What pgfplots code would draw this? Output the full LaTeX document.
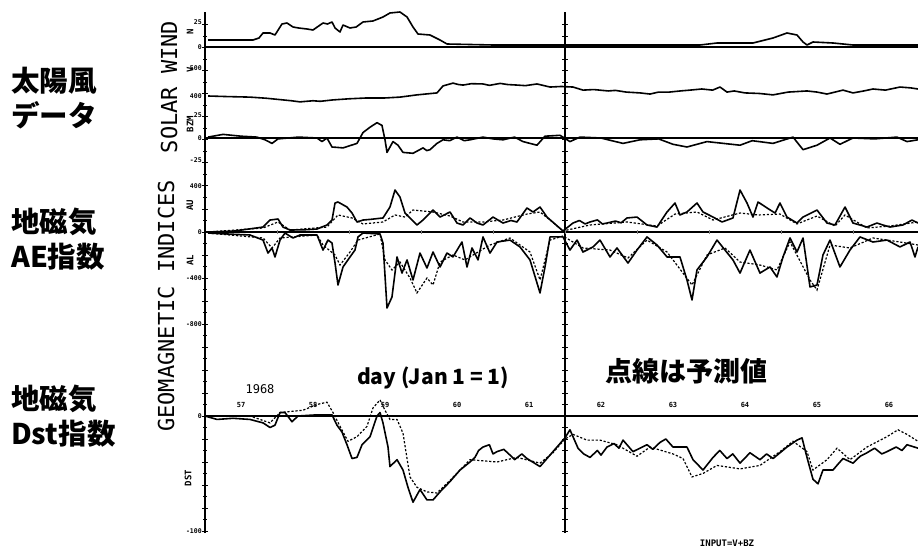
\documentclass[border=0pt]{standalone}
\usepackage{fontspec}
\usepackage{pgfplots}
\pgfplotsset{compat=1.18}
\setmonofont{DejaVu Sans Mono}
\newfontfamily\jp{Noto Sans CJK JP}
\begin{document}
\begin{tikzpicture}[x=1pt,y=1pt]
\useasboundingbox (0,0) rectangle (918,550);
\pgfplotsset{
  panel/.style={scale only axis, width=713pt, xmin=57, xmax=66.903,
    axis x line=middle, xtick=\empty, axis y line=left,
    axis line style={-, line width=1.3pt},
    y axis line style={draw=none},
    ytick style={draw=none},
    hide obscured y ticks=false, hide obscured x ticks=false,
    yticklabel style={font=\ttfamily\bfseries\fontsize{6.5}{6.5}\selectfont, inner sep=1pt},
    clip=false},
  obs/.style={black, line width=1.6pt, line join=round, no marks},
  pred/.style={black, line width=1.2pt, dash pattern=on 2.2pt off 1.8pt, no marks},
  daymarks/.style={extra x ticks={58,59,60,61,62,63,64,65,66}, extra x tick labels={},
    extra x tick style={tick align=center, major tick length=4pt, tick style={line width=0.8pt}}},
}
% frame: left axis with ticks
\begin{axis}[scale only axis, width=713pt, height=521pt, at={(205pt,17pt)}, anchor=south west,
  xmin=57, xmax=66.903, ymin=17, ymax=538,
  axis x line=none, axis y line=left, axis line style={-, line width=1.3pt},
  ytick={19,42,...,525}, yticklabels={}, yticklabel style={text opacity=0},
  minor y tick num=1, tick align=center,
  major tick length=6pt, minor tick length=4pt, tick style={line width=1pt, black}]
\addplot[draw=none] coordinates {(57,100)};
\end{axis}
% vertical line at day 62
\draw[line width=1.3pt] (565,17) -- (565,538);
\foreach \yy in {19,30.5,...,536} \draw[line width=1pt] (562,\yy) -- (568,\yy);

% N panel
\begin{axis}[panel, height=38pt, at={(205pt,500pt)}, anchor=south west, ymin=-3, ymax=35,
  ytick={0,25}, yticklabels={0,25}]
\addplot[obs] coordinates {(57.042,7) (57.667,7) (57.75,9) (57.806,14) (57.903,14) (57.972,12) (58.069,23) (58.139,24) (58.222,20) (58.3,19) (58.417,18) (58.5,17) (58.639,24) (58.7,23) (58.764,25) (58.806,19) (58.875,15) (58.917,22) (59.014,19) (59.1,20) (59.194,25) (59.333,26) (59.472,30) (59.569,34) (59.708,35) (59.806,30) (59.889,20) (59.958,13) (60.125,12) (60.264,7) (60.361,3) (61.0,2) (61.792,2) (62.486,2) (63.875,2) (64.111,4) (64.611,4) (64.889,9) (65.083,14) (65.222,12) (65.306,5) (65.361,2) (65.444,5) (65.722,4) (66.0,2) (66.903,2)};
\end{axis}

% V panel
\begin{axis}[panel, axis x line=none, height=57pt, at={(205pt,443pt)}, anchor=south west, ymin=360.7, ymax=564.3,
  ytick={400,500}, yticklabels={400,500}]
\addplot[obs] coordinates {(57.042,400) (57.3,398) (57.625,396) (57.85,392) (58.083,386) (58.2,383) (58.319,379) (58.5,383) (58.6,381) (58.778,386) (59.0,390) (59.25,393) (59.5,393) (59.708,396) (59.944,404) (60.222,411) (60.306,436) (60.444,446) (60.52,441) (60.583,439) (60.7,444) (60.861,443) (60.95,438) (61.1,445) (61.2,441) (61.333,439) (61.45,437) (61.611,443) (61.792,432) (61.95,434) (62.111,432) (62.25,421) (62.4,423) (62.6,418) (62.7,420) (62.85,414) (63.042,411) (63.181,407) (63.3,414) (63.45,414) (63.6,418) (63.736,421) (63.9,425) (64.05,421) (64.153,432) (64.25,414) (64.35,418) (64.5,411) (64.7,409) (64.889,404) (65.1,414) (65.361,418) (65.5,414) (65.639,407) (65.861,421) (66.0,411) (66.15,418) (66.278,425) (66.45,421) (66.653,432) (66.8,429) (66.903,425)};
\end{axis}

% BZ panel
\begin{axis}[panel, height=58pt, at={(205pt,385pt)}, anchor=south west, ymin=-30, ymax=34.44,
  ytick={-25,0,25}, yticklabels={-25,0,25}]
\addplot[obs] coordinates {(57.042,1) (57.25,4) (57.5,2) (57.722,1) (57.833,-2) (57.931,-6) (58.014,-1) (58.3,1) (58.556,0) (58.625,-4) (58.694,0) (58.764,-10) (58.917,-11) (59.111,-6) (59.194,6) (59.292,12) (59.389,17) (59.458,14) (59.5,-2) (59.528,-16) (59.611,-4) (59.68,-8) (59.75,-16) (59.889,-17) (60.028,-11) (60.08,-14) (60.125,-13) (60.222,-6) (60.306,-2) (60.4,-3) (60.5,1) (60.6,-3) (60.681,-2) (60.861,1) (61.0,-1) (61.139,-2) (61.3,1) (61.417,-4) (61.611,-8) (61.722,2) (61.931,3) (62.069,-4) (62.208,1) (62.5,0) (62.65,-3) (62.806,-6) (63.042,-2) (63.3,-1) (63.5,-7) (63.694,-10) (63.972,-4) (64.2,-6) (64.431,-8) (64.6,-3) (64.889,-6) (65.167,1) (65.306,-13) (65.5,-8) (65.681,0) (65.819,-7) (66.0,0) (66.3,-1) (66.611,1) (66.75,-4) (66.903,-2)};
\end{axis}

% AE panel
\begin{axis}[panel, daymarks, height=205pt, at={(205pt,180pt)}, anchor=south west, ymin=-1200, ymax=582.6,
  ytick={-800,-400,0,400}, yticklabels={-800,-400,0,400}]
% AU observed
\addplot[obs] coordinates {(57.042,0) (57.4,8) (57.806,43) (57.903,104) (58.014,113) (58.083,43) (58.181,17) (58.4,20) (58.556,26) (58.694,61) (58.764,104) (58.806,252) (58.847,261) (58.972,217) (59.042,165) (59.111,87) (59.194,104) (59.3,110) (59.472,122) (59.569,217) (59.639,365) (59.708,304) (59.778,165) (59.944,61) (60.028,104) (60.167,191) (60.264,130) (60.403,174) (60.5,78) (60.583,61) (60.681,122) (60.778,78) (60.861,61) (61.0,130) (61.139,78) (61.25,100) (61.333,87) (61.472,209) (61.556,174) (61.653,217) (61.75,130) (61.972,9) (62.111,78) (62.2,100) (62.28,70) (62.347,87) (62.45,105) (62.52,70) (62.583,78) (62.7,95) (62.78,80) (62.861,122) (63.0,130) (63.139,61) (63.278,43) (63.417,174) (63.528,252) (63.597,148) (63.694,174) (63.833,252) (63.917,174) (64.056,130) (64.181,87) (64.333,122) (64.431,365) (64.528,252) (64.611,130) (64.681,261) (64.806,209) (64.917,165) (64.986,252) (65.083,130) (65.222,78) (65.306,130) (65.5,191) (65.639,78) (65.75,61) (65.889,217) (66.0,78) (66.1,60) (66.194,43) (66.333,78) (66.42,60) (66.514,43) (66.694,61) (66.819,104) (66.903,78)};
% AU predicted
\addplot[pred] coordinates {(57.042,0) (57.806,35) (58.014,87) (58.181,17) (58.694,43) (58.847,148) (59.042,122) (59.194,70) (59.472,87) (59.639,148) (59.778,130) (59.889,191) (60.167,174) (60.403,139) (60.583,87) (60.861,87) (61.139,104) (61.472,156) (61.653,174) (61.792,104) (61.972,9) (62.347,61) (62.861,87) (63.278,52) (63.528,156) (63.833,174) (64.056,104) (64.431,165) (64.681,148) (64.986,156) (65.222,70) (65.5,139) (65.75,52) (65.889,148) (66.194,35) (66.514,52) (66.903,87)};
% AL observed
\addplot[obs] coordinates {(57.042,-9) (57.4,-20) (57.625,-26) (57.806,-70) (57.875,-183) (57.931,-139) (57.972,-217) (58.042,-70) (58.111,-9) (58.222,-52) (58.319,-26) (58.556,-26) (58.639,-157) (58.708,-70) (58.764,-96) (58.806,-270) (58.847,-461) (58.917,-304) (59.014,-217) (59.083,-157) (59.125,-43) (59.194,-9) (59.431,-17) (59.472,-96) (59.528,-661) (59.597,-565) (59.667,-217) (59.736,-357) (59.806,-243) (59.889,-417) (59.986,-183) (60.083,-313) (60.167,-174) (60.264,-304) (60.361,-183) (60.444,-217) (60.569,-87) (60.639,-304) (60.708,-139) (60.792,-243) (60.861,-43) (60.958,-183) (61.056,-87) (61.236,-70) (61.375,-130) (61.514,-243) (61.611,-443) (61.653,-530) (61.722,-304) (61.792,-43) (61.972,-43) (62.069,-157) (62.167,-70) (62.25,-174) (62.389,-130) (62.486,-70) (62.625,-217) (62.722,-139) (62.875,-270) (63.0,-157) (63.139,-43) (63.278,-113) (63.417,-217) (63.597,-217) (63.694,-417) (63.764,-591) (63.833,-330) (63.972,-217) (64.111,-70) (64.222,-157) (64.333,-243) (64.431,-357) (64.569,-157) (64.708,-357) (64.847,-304) (64.944,-391) (65.028,-217) (65.125,-52) (65.222,-174) (65.306,-52) (65.403,-478) (65.5,-461) (65.583,-200) (65.681,-70) (65.819,-304) (65.958,-157) (66.097,-43) (66.278,-87) (66.472,-70) (66.653,-130) (66.792,-87) (66.861,-217) (66.903,-130)};
% AL predicted
\addplot[pred] coordinates {(57.042,-9) (57.806,-52) (57.931,-139) (58.042,-52) (58.556,-26) (58.639,-113) (58.806,-200) (58.875,-287) (59.014,-174) (59.125,-70) (59.431,-17) (59.5,-243) (59.597,-330) (59.708,-261) (59.847,-400) (59.944,-530) (60.083,-400) (60.167,-461) (60.264,-261) (60.444,-200) (60.611,-243) (60.792,-174) (60.958,-113) (61.236,-52) (61.514,-174) (61.653,-417) (61.792,-70) (61.972,-35) (62.25,-139) (62.625,-157) (62.875,-226) (63.139,-70) (63.417,-174) (63.764,-461) (63.972,-200) (64.222,-139) (64.431,-261) (64.708,-287) (64.944,-330) (65.125,-87) (65.403,-417) (65.5,-504) (65.681,-113) (65.958,-139) (66.278,-52) (66.653,-87) (66.903,-113)};
\end{axis}

% DST panel
\begin{axis}[panel, daymarks, height=162pt, at={(205pt,18pt)}, anchor=south west, ymin=-100.9, ymax=40,
  ytick={-100,0}, yticklabels={-100,0},
  xtick={57.5,58.5,...,66.5}, xticklabels={57,58,59,60,61,62,63,64,65,66},
  xtick style={draw=none},
  xticklabel style={font=\ttfamily\bfseries\fontsize{7}{7}\selectfont, anchor=base, yshift=11pt}]
\addplot[obs] coordinates {(57.0,0) (57.167,-3) (57.389,-2) (57.625,-3) (57.806,-6) (57.903,-10) (57.972,-8) (58.042,3) (58.111,3) (58.208,-5) (58.292,0) (58.556,1) (58.764,1) (58.833,-8) (58.903,-14) (58.972,-25) (59.042,-37) (59.111,-36) (59.181,-25) (59.292,-18) (59.389,0) (59.431,3) (59.472,-6) (59.542,-27) (59.569,-44) (59.667,-38) (59.75,-47) (59.819,-62) (59.889,-75) (59.986,-64) (60.083,-73) (60.167,-73) (60.264,-66) (60.403,-57) (60.542,-47) (60.681,-40) (60.75,-36) (60.8,-30) (60.861,-27) (60.95,-25) (61.0,-33) (61.056,-31) (61.15,-29) (61.236,-34) (61.3,-38) (61.4,-33) (61.472,-37) (61.653,-44) (61.833,-31) (62.0,-19) (62.069,-12) (62.181,-28) (62.26,-33) (62.347,-36) (62.45,-30) (62.5,-34) (62.583,-27) (62.68,-24) (62.75,-28) (62.806,-21) (62.944,-31) (63.139,-25) (63.22,-29) (63.319,-23) (63.4,-20) (63.5,-27) (63.694,-27) (63.778,-38) (63.917,-47) (64.056,-36) (64.15,-30) (64.25,-37) (64.33,-33) (64.431,-41) (64.569,-32) (64.708,-38) (64.8,-33) (64.889,-37) (65.083,-27) (65.222,-21) (65.292,-19) (65.361,-36) (65.444,-55) (65.514,-59) (65.583,-47) (65.722,-47) (65.79,-42) (65.861,-37) (66.0,-41) (66.1,-35) (66.194,-32) (66.3,-28) (66.4,-33) (66.472,-31) (66.6,-27) (66.68,-30) (66.75,-25) (66.903,-28)};
\addplot[pred] coordinates {(57.0,0) (57.625,0) (57.903,-6) (58.042,3) (58.361,5) (58.556,10) (58.694,12) (58.778,3) (58.875,-9) (58.986,-22) (59.111,-18) (59.25,-9) (59.333,7) (59.431,14) (59.5,5) (59.569,-3) (59.667,-3) (59.75,-15) (59.847,-53) (59.944,-62) (60.083,-66) (60.222,-67) (60.403,-56) (60.681,-38) (61.056,-40) (61.333,-36) (61.653,-41) (61.833,-32) (62.0,-20) (62.111,-16) (62.306,-21) (62.486,-21) (62.722,-25) (63.0,-35) (63.181,-27) (63.5,-33) (63.639,-37) (63.764,-53) (63.917,-50) (64.111,-43) (64.431,-46) (64.708,-43) (64.986,-31) (65.167,-22) (65.361,-31) (65.444,-47) (65.639,-38) (65.778,-28) (65.958,-38) (66.194,-27) (66.472,-18) (66.625,-12) (66.75,-16) (66.903,-22)};
\end{axis}

% axis titles
\node[rotate=90, font=\ttfamily\fontsize{22}{22}\selectfont] at (169,463) {SOLAR WIND};
\node[rotate=90, font=\ttfamily\fontsize{22}{22}\selectfont] at (166,244) {GEOMAGNETIC INDICES};
\node[rotate=90, font=\ttfamily\bfseries\fontsize{9}{9}\selectfont] at (190,518) {N};
\node[rotate=90, font=\ttfamily\bfseries\fontsize{9}{9}\selectfont] at (190,480) {V};
\node[rotate=90, font=\ttfamily\bfseries\fontsize{9}{9}\selectfont] at (190,426) {BZM};
\node[rotate=90, font=\ttfamily\bfseries\fontsize{9}{9}\selectfont] at (190,345) {AU};
\node[rotate=90, font=\ttfamily\bfseries\fontsize{9}{9}\selectfont] at (190,290) {AL};
\node[rotate=90, font=\ttfamily\bfseries\fontsize{9}{9}\selectfont] at (188,72) {DST};
% Japanese labels
\node[anchor=west, align=left, font=\jp\bfseries\fontsize{28.5}{35}\selectfont, inner sep=0pt] at (11,451.5) {太陽風\\データ};
\node[anchor=west, align=left, font=\jp\bfseries\fontsize{28.5}{35}\selectfont, inner sep=0pt] at (11,310.5) {地磁気\\AE指数};
\node[anchor=west, align=left, font=\jp\bfseries\fontsize{28.5}{35}\selectfont, inner sep=0pt] at (11,134) {地磁気\\Dst指数};
% annotations
\node[font=\jp\bfseries\fontsize{21}{21}\selectfont] at (433,172) {day (Jan 1 = 1)};
\node[font=\jp\bfseries\fontsize{27}{27}\selectfont] at (686,179) {点線は予測値};
\node[font=\ttfamily\fontsize{12}{12}\selectfont] at (260,161) {1968};
\node[font=\ttfamily\bfseries\fontsize{9}{9}\selectfont] at (727,7) {INPUT=V+BZ};
\end{tikzpicture}
\end{document}
